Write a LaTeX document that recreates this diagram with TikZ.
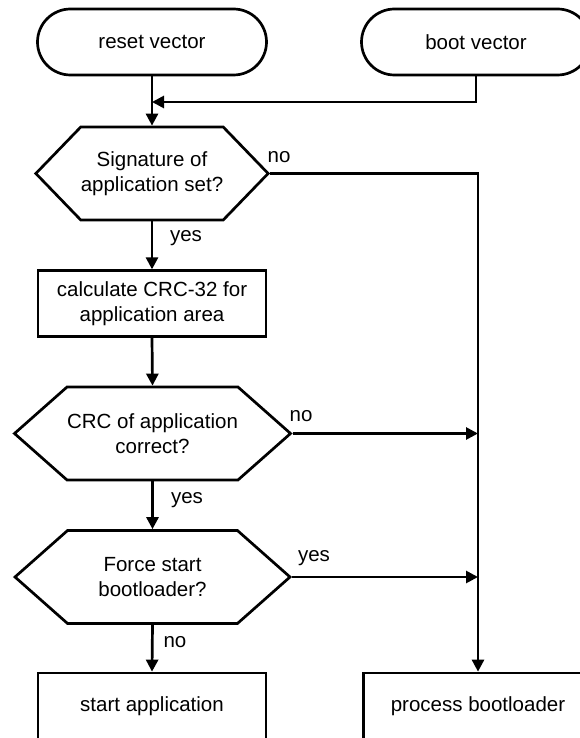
\documentclass[tikz,border=0pt]{standalone}
\usepackage{fontspec}
\setmainfont{Liberation Sans}
\usetikzlibrary{shapes.misc, shapes.symbols, arrows.meta}

\begin{document}
\begin{tikzpicture}[x=1pt, y=-1pt, >={Triangle[length=12pt,width=12pt]}, line width=2.7pt,
        every node/.style={font=\fontsize{20.5}{24.5}\selectfont, align=center, inner sep=0pt},
        terminal/.style={draw, rounded rectangle, minimum width=229pt, minimum height=66pt},
        process/.style={draw, rectangle, minimum width=228pt, minimum height=66pt},
        decision/.style={draw, signal, signal to=east and west, minimum width=#1, minimum height=93pt}]
            \useasboundingbox (0, 0) rectangle (580, 738);
            \clip (0, 0) rectangle (580, 738);
            \node[terminal] (reset) at (152, 42){reset vector};
            \node[terminal] (boot) at (476, 42){boot vector};
            \node[decision=230pt, signal pointer angle=92] (sig) at (152, 173.5){Signature of\\application set?};
            \node[process] (calc) at (152, 303.7){calculate CRC-32 for\\application area};
            \node[decision=275pt, signal pointer angle=83] (crc) at (152.5, 433.5){CRC of application\\correct?};
            \node[decision=275pt, signal pointer angle=83] (force) at (152.5, 577){Force start\\bootloader?};
            \node[process] (start) at (152, 706){start application};
            \node[process, minimum width=229pt] (loader) at (478, 706){process bootloader};
            \coordinate (merge) at (152, 102);   % boot vector joins here
            % connectors
            \draw[->] (reset.south) -- (sig.north);
            \draw[->] (boot.south) |- (merge);
            \draw[->] (sig.south) -- (calc.north);
            \draw[->] (calc.south) -- (crc.north);
            \draw[->] (crc.south) -- (force.north);
            \draw[->] (force.south) -- (start.north);
            \draw[->] (sig.east) -| (loader.north);
            \draw[->] (crc.east) -- (crc.east -| loader.north);
            \draw[->] (force.east) -- (force.east -| loader.north);
            % answers
            \node (signo) at (279, 157){no};
            \node (sigyes) at (186, 238){yes};
            \node (crcno) at (301, 416){no};
            \node (crcyes) at (187, 500){yes};
            \node (forceyes) at (314, 558){yes};
            \node (forceno) at (175, 642){no};
        \end{tikzpicture}
\end{document}
